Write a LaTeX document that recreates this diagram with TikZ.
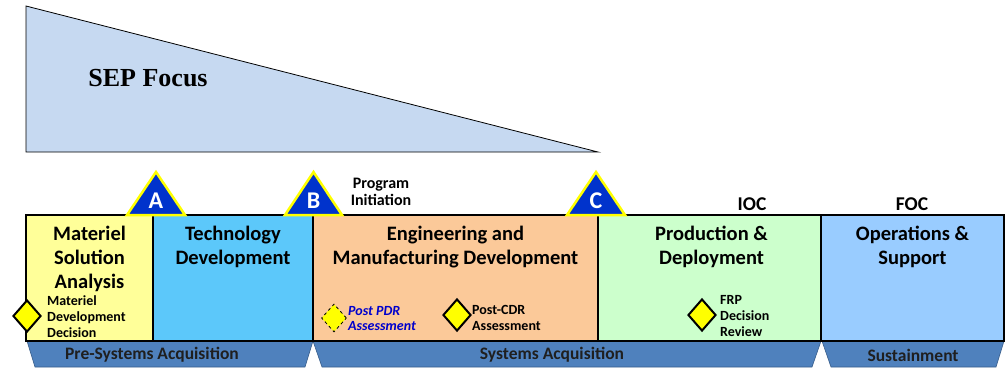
\documentclass[tikz,border=0pt]{standalone}
\usepackage{fontspec}
\setmainfont{Carlito}
\newfontfamily\sepfont{Liberation Serif}
\usetikzlibrary{shapes.geometric,calc}
\definecolor{sepblue}{HTML}{C6D9F1}
\definecolor{msacol}{HTML}{FFFF99}
\definecolor{tdcol}{HTML}{5CC8FA}
\definecolor{emdcol}{HTML}{FBC999}
\definecolor{pdcol}{HTML}{CCFFCC}
\definecolor{oscol}{HTML}{99CCFF}
\definecolor{bandcol}{HTML}{4F81BD}
\definecolor{bandedge}{HTML}{385D8A}
\definecolor{msblue}{HTML}{0033CC}
\definecolor{msyellow}{HTML}{FFFF00}
\definecolor{pdrblue}{HTML}{0000CC}
\begin{document}
\begin{tikzpicture}[x=1pt,y=-1pt,
  phase/.style={draw=black, line width=2pt, inner sep=0pt, outer sep=0pt, minimum height=126pt},
  ptitle/.style={anchor=north, align=center, font=\bfseries\fontsize{20.5}{24}\selectfont, inner sep=0pt},
  small/.style={anchor=west, align=left, font=\bfseries\fontsize{14}{16}\selectfont, inner sep=0pt},
  label/.style={align=center, font=\bfseries\fontsize{16}{17}\selectfont, inner sep=0pt},
  band/.style={fill=bandcol, draw=bandedge, line width=0.6pt},
  bandtext/.style={font=\bfseries\fontsize{17.5}{20}\selectfont, text=black!88, inner sep=0pt},
  dmd/.style={diamond, draw=black, line width=2pt, fill=msyellow, inner sep=0pt, minimum width=28pt, minimum height=32pt},
  mstri/.style={fill=msblue, draw=msyellow, line width=2.5pt, line join=miter},
  msletter/.style={font=\bfseries\fontsize{24}{26}\selectfont, text=white, inner sep=0pt}
]
\useasboundingbox (0,0) rectangle (1006,368);

% SEP focus wedge
\draw[fill=sepblue, line width=0.8pt] (26,6) -- (598,152) -- (26,152) -- cycle;
\node[font=\sepfont\bfseries\fontsize{26}{28}\selectfont, inner sep=0pt] (sep) at (148,78) {SEP Focus};

% bottom bands
\draw[band] (27,341) -- (313,341) -- (305,367) -- (35,367) -- cycle;
\draw[band] (313,341) -- (821,341) -- (812,367) -- (322,367) -- cycle;
\draw[band] (822,341) -- (1004,341) -- (996,367) -- (831,367) -- cycle;
\node[bandtext] (pre) at (152,355) {Pre-Systems Acquisition};
\node[bandtext] (sys) at (552,355) {Systems Acquisition};
\node[bandtext] (sus) at (913,355) {Sustainment};

% phase boxes
\node[phase, fill=msacol, minimum width=127pt] (msa) at (89.5,278) {};
\node[phase, fill=tdcol, minimum width=160pt] (td) at (233,278) {};
\node[phase, fill=emdcol, minimum width=285pt] (emd) at (455.5,278) {};
\node[phase, fill=pdcol, minimum width=223pt] (pd) at (709.5,278) {};
\node[phase, fill=oscol, minimum width=183pt] (os) at (912.5,278) {};

\node[ptitle] (msat) at ([yshift=-10.5pt]msa.north) {Materiel\\Solution\\Analysis};
\node[ptitle] (tdt) at ([yshift=-10.5pt]td.north) {Technology\\Development};
\node[ptitle] (emdt) at ([yshift=-10.5pt]emd.north) {Engineering and\\Manufacturing Development};
\node[ptitle] (pdt) at ([xshift=2pt,yshift=-10.5pt]pd.north) {Production \&\\Deployment};
\node[ptitle] (ost) at ([yshift=-10.5pt]os.north) {Operations \&\\Support};

% milestone triangles
\draw[mstri] (127,215) -- (156,172) -- (185,215) -- cycle;
\node[msletter] (A) at (156,201) {A};
\draw[mstri] (285,215) -- (313.5,172) -- (342,215) -- cycle;
\node[msletter] (B) at (313.5,201) {B};
\draw[mstri] (567,215) -- (596,172) -- (625,215) -- cycle;
\node[msletter] (C) at (596,201) {C};

% labels above
\node[label] (pi) at (381,192) {Program\\Initiation};
\node[label, font=\bfseries\fontsize{19.5}{21}\selectfont] (ioc) at (752,204) {IOC};
\node[label, font=\bfseries\fontsize{19.5}{21}\selectfont] (foc) at (912,204) {FOC};

% decision diamonds
\node[dmd] (mdd) at (27,316) {};
\node[small] (mddt) at (47,316.5) {Materiel\\Development\\Decision};
\node[dmd, dashed, line width=0.8pt, minimum width=25pt, minimum height=28pt] (pdr) at (334,318) {};
\node[small, text=pdrblue, font=\bfseries\itshape\fontsize{14}{15}\selectfont] (pdrt) at (348,318.5) {Post PDR\\Assessment};
\node[dmd] (cdr) at (457,315) {};
\node[small, font=\bfseries\fontsize{14}{16}\selectfont] (cdrt) at (472,318) {Post-CDR\\Assessment};
\node[dmd] (frp) at (702,315) {};
\node[small] (frpt) at (720,316) {FRP\\Decision\\Review};
\end{tikzpicture}
\end{document}
